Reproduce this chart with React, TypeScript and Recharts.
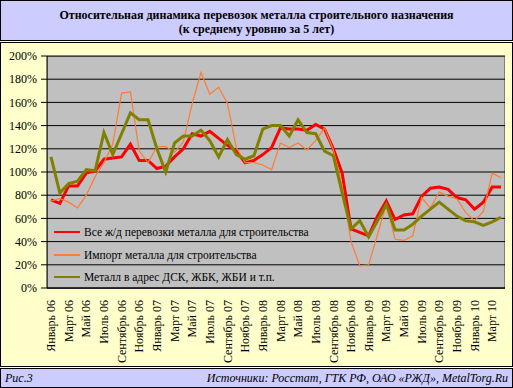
import React from 'react';
import { LineChart, Line, XAxis, YAxis, CartesianGrid } from 'recharts';

// month labels, Jan 2006 .. Apr 2010
const monthNames = ['Январь', 'Февраль', 'Март', 'Апрель', 'Май', 'Июнь', 'Июль', 'Август', 'Сентябрь', 'Октябрь', 'Ноябрь', 'Декабрь'];
const years = ['06', '07', '08', '09', '10'];
const months: string[] = [];
years.forEach((yr) => monthNames.forEach((m) => months.push(m + ' ' + yr)));
months.splice(52);

// % of 5-year average
const allRail = [76, 73, 88, 88, 99, 101, 111, 112, 113, 124, 110, 110, 103, 105, 113, 120, 133, 131, 135, 129, 123, 118, 108, 110, 115, 121, 138, 137, 137, 136, 141, 137, 120, 99, 51, 48, 45, 62, 75, 59, 63, 64, 79, 86, 87, 85, 78, 76, 68, 74, 87, 87];
const imports = [75, 77, 74, 69, 80, 96, 108, 124, 168, 169, 118, 108, 122, 122, 117, 126, 159, 186, 167, 173, 159, 121, 108, 108, 106, 102, 125, 121, 125, 119, 127, 138, 119, 88, 40, 19, 20, 46, 72, 42, 41, 45, 78, 69, 83, 79, 77, 65, 58, 66, 99, 95];
const concrete = [113, 82, 90, 92, 102, 101, 134, 115, 133, 151, 145, 145, 120, 100, 125, 131, 131, 136, 127, 113, 128, 115, 111, 114, 137, 140, 140, 131, 145, 134, 133, 118, 114, 82, 51, 58, 44, 58, 72, 50, 50, 55, 62, 68, 74, 68, 62, 58, 57, 54, 57, 61];

const yTicks = [0, 20, 40, 60, 80, 100, 120, 140, 160, 180, 200];

const series = [
  { key: 'allRail', name: 'Все ж/д перевозки металла для строительства', color: '#FF0000', width: 3 },
  { key: 'imports', name: 'Импорт металла для строительства', color: '#FF7A33', width: 1.2 },
  { key: 'concrete', name: 'Металл в адрес ДСК, ЖБК, ЖБИ и т.п.', color: '#808000', width: 3 },
];

const data = months.map((m, i) => ({
  month: m,
  allRail: allRail[i],
  imports: imports[i],
  concrete: concrete[i],
}));

const font = '"Liberation Serif", "Times New Roman", serif';

const MonthTick = (props: any) => {
  const { x, y, payload } = props;
  const ty = y + 4;
  return (
    <text x={x} y={ty} dy="0.35em" transform={`rotate(-90 ${x} ${ty})`} textAnchor="end" fontSize={12} fill="#000" fontFamily={font}>
      {payload.value}
    </text>
  );
};

export default function App() {
  return (
    <div style={{ position: 'absolute', left: 0, top: 0, width: 513, height: 388, background: '#fff', fontFamily: font, overflow: 'hidden' }}>
      <div style={{ position: 'absolute', left: 0, top: 0, width: 513, height: 41, boxSizing: 'border-box', border: '1px solid #000', background: '#CCCCFF', textAlign: 'center', fontWeight: 'bold', fontSize: 12, lineHeight: '14px', paddingTop: 7 }}>
        Относительная динамика перевозок металла строительного назначения
        <br />
        (к среднему уровню за 5 лет)
      </div>
      <div style={{ position: 'absolute', left: 0, top: 42, width: 513, height: 325, boxSizing: 'border-box', border: '1px solid #000', background: '#FFFFCC' }} />
      <div style={{ position: 'absolute', left: 0, top: 368, width: 513, height: 20, boxSizing: 'border-box', border: '1px solid #000', background: '#CCCCFF', fontStyle: 'italic', fontSize: 12, lineHeight: '18px' }}>
        <span style={{ position: 'absolute', left: 4 }}>Рис.3</span>
        <span style={{ position: 'absolute', right: 4 }}>Источники: Росстат, ГТК РФ, ОАО «РЖД», MetalTorg.Ru</span>
      </div>
      <div style={{ position: 'absolute', left: 47, top: 56, width: 458, height: 233, boxSizing: 'border-box', border: '1px solid #808080', background: '#C0C0C0' }} />
      <div style={{ position: 'absolute', left: 0, top: 0 }}>
        <LineChart width={513} height={388} data={data} margin={{ top: 56, right: 8, bottom: 0, left: 0 }}>
          <CartesianGrid vertical={false} stroke="#000" strokeWidth={1} />
          <XAxis
            dataKey="month"
            interval={1}
            height={100}
            padding={{ left: 4, right: 4 }}
            tickLine={false}
            axisLine={{ stroke: '#000' }}
            tick={<MonthTick />}
          />
          <YAxis
            width={47}
            domain={[0, 200]}
            ticks={yTicks}
            tickFormatter={(v: number) => v + '%'}
            tickSize={6}
            tickMargin={4}
            axisLine={{ stroke: '#000' }}
            tickLine={{ stroke: '#000' }}
            tick={{ fill: '#000', fontSize: 12, fontFamily: font }}
          />
          {series.map((s) => (
            <Line key={s.key} dataKey={s.key} name={s.name} stroke={s.color} strokeWidth={s.width} dot={false} isAnimationActive={false} />
          ))}
        </LineChart>
      </div>
      {series.map((s, i) => (
        <div key={s.key} style={{ position: 'absolute', left: 54, top: 224 + i * 22.5, height: 16, display: 'flex', alignItems: 'center', fontSize: 11.5, whiteSpace: 'nowrap' }}>
          <span style={{ display: 'inline-block', width: 26, height: 0, borderTop: `2px solid ${s.color}`, marginRight: 4 }} />
          <span>{s.name}</span>
        </div>
      ))}
    </div>
  );
}
